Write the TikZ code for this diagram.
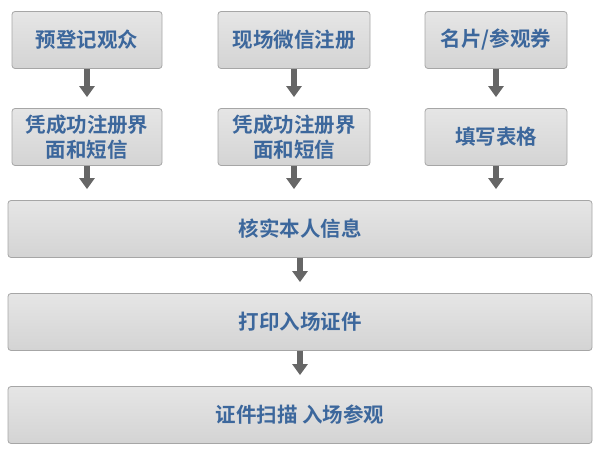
\documentclass[tikz,border=0pt]{standalone}
\usepackage{fontspec}
\newfontfamily\cjk{Noto Sans CJK SC Bold}
\usetikzlibrary{arrows.meta}
\definecolor{labelblue}{HTML}{3C679C}
\tikzset{
  stepbox/.style={draw=black!35, line width=0.8pt, rounded corners=3pt, top color=black!10, bottom color=black!17,
    minimum height=57pt, align=center, inner sep=0pt, font=\cjk\fontsize{20.5}{25}\selectfont, text=labelblue},
  flow/.style={-{Triangle[length=11pt,width=15pt]}, line width=6pt, draw=black!60, shorten >=11pt}
}
\begin{document}
\begin{tikzpicture}[x=1pt,y=-1pt]
  \useasboundingbox (0,0) rectangle (600,462);
  \node[stepbox, minimum width=150pt] (a1) at (87,40) {预登记观众};
  \node[stepbox, minimum width=152pt] (b1) at (294,40) {现场微信注册};
  \node[stepbox, minimum width=142pt] (c1) at (496,40) {名片/参观券};
  \node[stepbox, minimum width=150pt] (a2) at (87,137) {凭成功注册界\\面和短信};
  \node[stepbox, minimum width=152pt] (b2) at (294,137) {凭成功注册界\\面和短信};
  \node[stepbox, minimum width=142pt] (c2) at (496,137) {填写表格};
  \node[stepbox, minimum width=584pt] (d) at (300,229) {核实本人信息};
  \node[stepbox, minimum width=584pt] (e) at (300,322) {打印入场证件};
  \node[stepbox, minimum width=584pt] (f) at (300,415) {证件扫描~入场参观};
  \draw[flow] (a1) -- (a2);
  \draw[flow] (b1) -- (b2);
  \draw[flow] (c1) -- (c2);
  \draw[flow] (a2.south) -- (a2.south |- d.north);
  \draw[flow] (b2.south) -- (b2.south |- d.north);
  \draw[flow] (c2.south) -- (c2.south |- d.north);
  \draw[flow] (d.south) -- (e.north);
  \draw[flow] (e.south) -- (f.north);
\end{tikzpicture}
\end{document}
